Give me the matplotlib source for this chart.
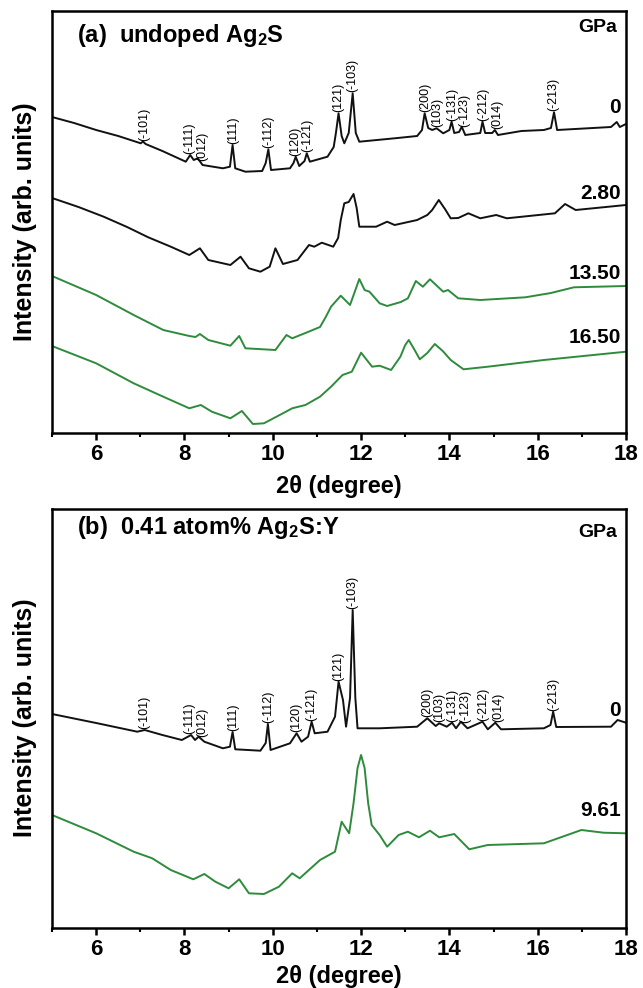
import numpy as np
import matplotlib
matplotlib.use('Agg')
import matplotlib.pyplot as plt

plt.rcParams['font.family'] = ['Liberation Sans', 'DejaVu Sans']
plt.rcParams['font.weight'] = 'bold'
plt.rcParams['mathtext.fontset'] = 'custom'
plt.rcParams['mathtext.rm'] = 'Liberation Sans:bold'
plt.rcParams['mathtext.default'] = 'rm'

# ---- data (2theta in degree, intensity in arb. units) ----
# panel (a): undoped Ag2S
a0_x = [5.0, 5.5, 6.0, 6.5, 7.01, 7.06, 7.12, 7.5, 8.03, 8.13, 8.21, 8.30, 8.41, 8.87, 9.03,
        9.09, 9.15, 9.38, 9.76, 9.84, 9.90, 9.96, 10.39, 10.47, 10.52, 10.6, 10.72, 10.77,
        10.84, 11.24, 11.38, 11.43, 11.49, 11.56, 11.62, 11.72, 11.81, 11.88, 11.96, 12.76,
        13.27, 13.38, 13.44, 13.52, 13.61, 13.71, 13.86, 14.0, 14.05, 14.11, 14.22, 14.28,
        14.36, 14.7, 14.75, 14.81, 14.97, 15.03, 15.1, 15.63, 16.14, 16.3, 16.37, 16.44,
        17.66, 17.79, 17.86, 18.0]
a0_y = [316, 310, 303, 297, 289.7, 291.5, 289, 282, 271.3, 278, 273, 274.7, 268, 264.7, 266.3,
        288, 264.7, 261.3, 262, 270, 283.7, 263, 264.7, 270, 276.3, 267, 272, 279.7,
        271.3, 276.3, 286, 300, 319.7, 297, 289.7, 300, 339.7, 300, 291.3, 294.7,
        297, 303, 319.7, 305, 303, 304.7, 299.7, 303, 311.3, 300, 301, 306.3,
        298, 300, 311.3, 300, 300, 303, 298, 302, 303, 305, 320.7, 303,
        306, 311, 306, 309]

a1_x = [5.0, 5.6, 6.17, 6.7, 7.18, 7.69, 8.11, 8.35, 8.54, 9.04, 9.27, 9.46, 9.72, 9.93, 10.06,
        10.23, 10.56, 10.82, 10.94, 11.11, 11.37, 11.48, 11.54, 11.62, 11.72, 11.83, 11.9,
        11.96, 12.34, 12.59, 12.76, 13.27, 13.5, 13.61, 13.76, 13.9, 14.03, 14.2, 14.43, 14.7,
        15.06, 15.3, 16.39, 16.62, 16.86, 18.0]
a1_y = [235, 226, 216.3, 206, 195.7, 186.3, 178, 184.7, 173, 168, 176.3, 164.7, 161.3, 166.3,
        184.7, 169, 173, 188, 186.3, 190.3, 186.3, 195, 213, 229.7, 231, 239, 225,
        206.3, 206.3, 211.3, 208, 213, 218, 223, 233, 224, 214.7, 215, 219.7, 214.7,
        218, 214.7, 219.7, 229, 223, 228]

a2_x = [5.0, 6.0, 6.85, 7.52, 8.11, 8.25, 8.35, 8.54, 9.04, 9.24, 9.38, 10.06, 10.31, 10.44,
        10.74, 11.07, 11.2, 11.32, 11.54, 11.75, 11.96, 12.08, 12.19, 12.42, 12.59, 12.9,
        13.06, 13.24, 13.4, 13.56, 13.86, 13.97, 14.2, 14.7, 15.72, 16.3, 16.82, 18.0]
a2_y = [157, 138, 118, 103, 97, 96, 99, 93, 87.3, 97, 84.7, 83, 98, 94.7,
        100, 106, 116, 126.3, 137.3, 128, 154, 143, 141.3, 129.7, 127, 131,
        134.7, 152, 146.3, 153.7, 141.3, 143, 134.7, 133, 135.7, 140, 145.7, 147]

a3_x = [5.0, 6.0, 6.85, 7.52, 8.11, 8.37, 8.62, 9.04, 9.3, 9.55, 9.8, 10.23, 10.44, 10.74,
        11.07, 11.32, 11.58, 11.79, 11.92, 12.0, 12.13, 12.25, 12.42, 12.68, 12.89, 13.0,
        13.08, 13.2, 13.33, 13.5, 13.67, 13.85, 14.03, 14.32, 14.87, 16.14, 18.0]
a3_y = [87, 69.7, 49.7, 36.3, 24.7, 28, 21.3, 14.7, 22, 9, 9.7, 19.7, 24.7, 28,
        36.3, 46.3, 58, 61.3, 73, 80.3, 73, 66.3, 67.3, 63, 76.3, 88,
        93, 84, 73.7, 80, 89, 82, 73, 63.7, 66.3, 73, 81.3]

# panel (b): 0.41 atom% Ag2S:Y
b0_x = [5.0, 6.0, 6.93, 7.1, 7.5, 7.94, 8.15, 8.24, 8.32, 8.45, 8.87, 9.03, 9.09, 9.15, 9.72,
        9.84, 9.89, 9.95, 10.39, 10.54, 10.65, 10.8, 10.88, 10.95, 11.24, 11.41, 11.49, 11.59,
        11.66, 11.75, 11.81, 11.87, 11.92, 12.42, 13.27, 13.5, 13.69, 13.77, 13.94, 14.06,
        14.15, 14.26, 14.41, 14.75, 14.87, 15.04, 15.17, 16.14, 16.29, 16.35, 16.42, 17.66,
        17.81, 18.0]
b0_y = [214, 205, 196.3, 198, 193, 188, 193, 188, 191.3, 186.3, 179.7, 181.3, 196, 178.7,
        177.3, 185, 204, 178, 184.7, 194.7, 186.3, 191.3, 206.3, 194.7, 196.3, 211.3, 246.3,
        228, 201.3, 230, 318, 230, 199.7, 199.7, 201.3, 209.7, 202, 204.7, 201.3, 205.3,
        199.7, 206.3, 199.7, 206.3, 198.7, 205.3, 198.7, 199.7, 203, 216.3, 201, 201.3,
        208, 205.3]

b1_x = [5.0, 6.0, 6.85, 7.27, 7.69, 8.2, 8.45, 8.7, 9.0, 9.24, 9.46, 9.8, 10.14, 10.44, 10.61,
        11.07, 11.41, 11.56, 11.73, 11.83, 11.92, 12.0, 12.08, 12.16, 12.24, 12.42, 12.59,
        12.85, 13.06, 13.31, 13.56, 13.77, 14.11, 14.45, 14.87, 16.14, 16.99, 17.49, 18.0]
b1_y = [113, 94.7, 76.3, 69.7, 58, 48.7, 54, 46.3, 39.7, 48.7, 34.7, 34, 41.3, 54.7, 49.7,
        68, 76.3, 106.3, 94.7, 125, 160, 173, 160, 125, 103, 93, 81.3,
        93, 96.3, 90.7, 97.3, 90.7, 94, 78.7, 83, 84.7, 98, 95.3, 94.7]

hkl = ['(-101)', '(-111)', '(012)', '(111)', '(-112)', '(120)', '(-121)', '(121)', '(-103)',
       '(200)', '(103)', '(-131)', '(-123)', '(-212)', '(014)', '(-213)']
hkl_pos_a = [7.08, 8.1, 8.41, 9.1, 9.9, 10.5, 10.79, 11.48, 11.81, 13.45, 13.72, 14.06,
             14.34, 14.76, 15.08, 16.36]
hkl_pos_b = [7.1, 8.1, 8.41, 9.1, 9.9, 10.53, 10.88, 11.48, 11.81, 13.5, 13.76, 14.07,
             14.37, 14.76, 15.1, 16.36]

pressures_a = ['0', '2.80', '13.50', '16.50']
pressures_b = ['0', '9.61']

black = '#111111'
green = '#2e8b3c'

fig = plt.figure(figsize=(6.43, 9.88), dpi=100)
ax_a = fig.add_axes([52/643, 1-433/988, 574/643, 422/988])
ax_b = fig.add_axes([52/643, 1-928/988, 574/643, 419/988])


def style_axis(ax, ymax):
    ax.set_xlim(5, 18)
    ax.set_ylim(0, ymax)
    ax.set_xticks([6, 8, 10, 12, 14, 16, 18])
    ax.set_xticks([5, 7, 9, 11, 13, 15, 17], minor=True)
    ax.set_yticks([])
    for s in ax.spines.values():
        s.set_linewidth(1.8)
    ax.tick_params(axis='x', which='major', direction='out', length=5, width=1.8,
                   labelsize=16, pad=3)
    ax.tick_params(axis='x', which='minor', direction='out', length=3, width=1.5)
    for t in ax.get_xticklabels():
        t.set_fontweight('bold')
    ax.set_xlabel('2θ (degree)', fontsize=17, fontweight='bold')


def add_hkl(ax, cx, cy, positions):
    grid = np.linspace(5, 18, 2601)
    yy = np.interp(grid, cx, cy)
    for lab, p in zip(hkl, positions):
        m = (grid > p - 0.05) & (grid < p + 0.05)
        ax.text(p, yy[m].max() + 1, lab, rotation=90, ha='center', va='bottom',
                fontsize=9, fontweight='normal')


# panel (a)
ax_a.plot(a0_x, a0_y, color=black, lw=1.4)
ax_a.plot(a1_x, a1_y, color=black, lw=1.4)
ax_a.plot(a2_x, a2_y, color=green, lw=1.4)
ax_a.plot(a3_x, a3_y, color=green, lw=1.4)
style_axis(ax_a, 422)
ax_a.xaxis.set_label_coords(0.5, -0.1)
add_hkl(ax_a, a0_x, a0_y, hkl_pos_a)
for lab, yv in zip(pressures_a, [326, 240, 160, 96]):
    ax_a.text(17.88, yv, lab, ha='right', va='center', fontsize=15, fontweight='bold')
ax_a.text(0.044, 0.941, r'(a)  undoped Ag$_2$S', transform=ax_a.transAxes,
          ha='left', va='center', fontsize=17, fontweight='bold')
ax_a.text(0.985, 0.96, 'GPa', transform=ax_a.transAxes, ha='right', va='center',
          fontsize=14, fontweight='bold')

# panel (b)
ax_b.plot(b0_x, b0_y, color=black, lw=1.4)
ax_b.plot(b1_x, b1_y, color=green, lw=1.4)
style_axis(ax_b, 419)
ax_b.xaxis.set_label_coords(0.5, -0.089)
add_hkl(ax_b, b0_x, b0_y, hkl_pos_b)
for lab, yv in zip(pressures_b, [218, 118]):
    ax_b.text(17.88, yv, lab, ha='right', va='center', fontsize=15, fontweight='bold')
ax_b.text(0.044, 0.955, r'(b)  0.41 atom% Ag$_2$S:Y', transform=ax_b.transAxes,
          ha='left', va='center', fontsize=17, fontweight='bold')
ax_b.text(0.985, 0.943, 'GPa', transform=ax_b.transAxes, ha='right', va='center',
          fontsize=14, fontweight='bold')

fig.text(25/643, 1-222/988, 'Intensity (arb. units)', rotation=90, ha='center', va='center',
         fontsize=18, fontweight='bold')
fig.text(25/643, 1-718/988, 'Intensity (arb. units)', rotation=90, ha='center', va='center',
         fontsize=18, fontweight='bold')

fig.savefig('out.png', dpi=100)
